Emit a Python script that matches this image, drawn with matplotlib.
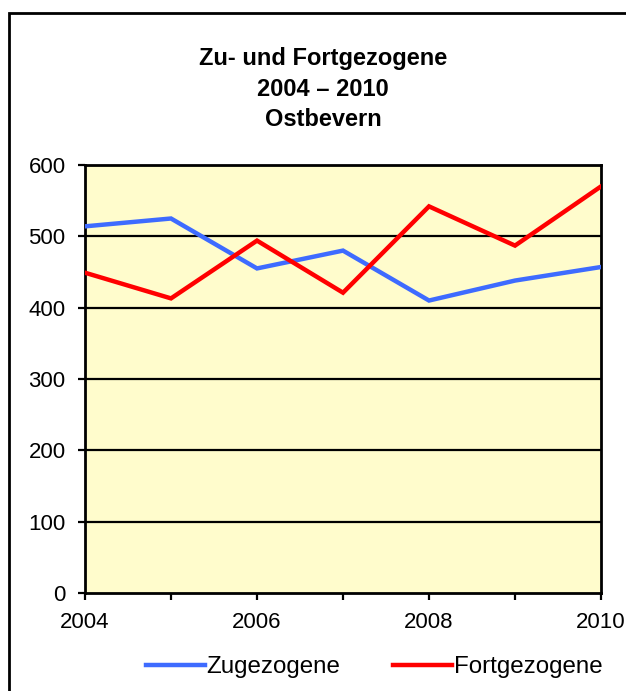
import matplotlib
matplotlib.use("Agg")
import matplotlib.pyplot as plt
from matplotlib.patches import Rectangle
from matplotlib.lines import Line2D

years = [2004, 2005, 2006, 2007, 2008, 2009, 2010]
zugezogene = [514, 525, 455, 480, 410, 438, 457]
fortgezogene = [449, 413, 494, 421, 542, 487, 570]
xtick_labels = ["2004", "", "2006", "", "2008", "", "2010"]
yticks = [0, 100, 200, 300, 400, 500, 600]
title = "Zu- und Fortgezogene\n2004 \u2013 2010\nOstbevern"

plt.rcParams['font.family'] = ['Liberation Sans', 'DejaVu Sans']

W, H = 626, 691
fig = plt.figure(figsize=(W / 100, H / 100), dpi=100)
fig.patch.set_facecolor('white')

# outer frame (left and top visible, right/bottom clipped)
fig.patches.append(Rectangle((9 / W, -0.1), 1.2, 1 - 13 / H + 0.1, transform=fig.transFigure,
                             fill=False, edgecolor='black', linewidth=2.0))

ax = fig.add_axes([85 / W, 1 - 593 / H, (601 - 85) / W, (593 - 165) / H])
ax.set_facecolor('#FFFCCC')
ax.set_xlim(2004, 2010)
ax.set_ylim(0, 600)

for y in yticks[1:]:
    ax.axhline(y, color='black', linewidth=1.6, zorder=1)

ax.plot(years, zugezogene, color='#3E6BFF', linewidth=3.2, zorder=3, solid_joinstyle='miter')
ax.plot(years, fortgezogene, color='#FF0000', linewidth=3.2, zorder=3, solid_joinstyle='miter')

ax.set_yticks(yticks)
ax.set_yticklabels([str(v) for v in yticks], fontsize=16)
ax.set_xticks(years)
ax.set_xticklabels(xtick_labels, fontsize=16)
ax.tick_params(axis='both', direction='out', length=5, width=1.6, colors='black')
ax.tick_params(axis='x', pad=9)
ax.tick_params(axis='y', pad=9)
for s in ax.spines.values():
    s.set_linewidth(2)
    s.set_color('black')

fig.text(323 / W, 1 - 89 / H, title, ha='center', va='center', fontsize=17,
         fontweight='bold', linespacing=1.42)

handles = [Line2D([], [], color='#3E6BFF', linewidth=3.2),
           Line2D([], [], color='#FF0000', linewidth=3.2)]
fig.legend(handles, ["Zugezogene", "Fortgezogene"], loc='center',
           bbox_to_anchor=(374 / W, 1 - 667 / H), ncol=2, frameon=False,
           fontsize=17.4, handlelength=2.45, handletextpad=0.05, columnspacing=2.2)

fig.savefig("out.png", dpi=100)
